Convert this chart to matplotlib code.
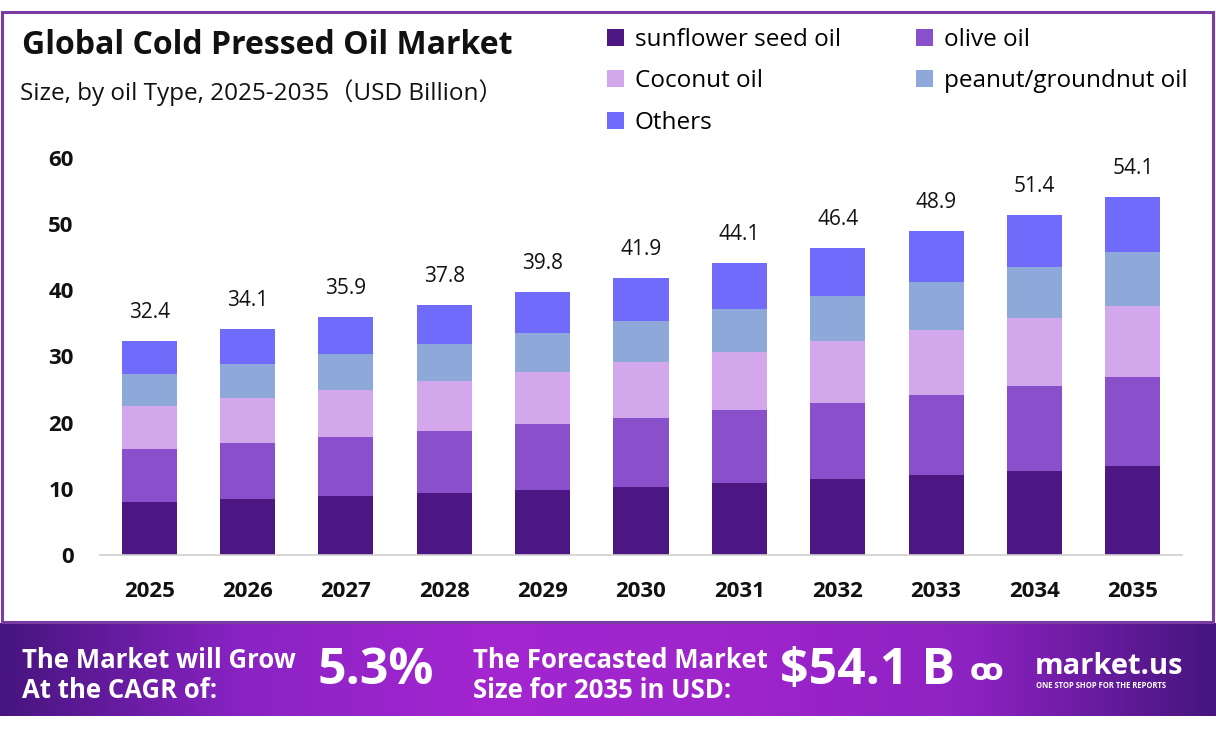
import numpy as np
import matplotlib.pyplot as plt
from matplotlib.colors import LinearSegmentedColormap
from matplotlib.patches import Rectangle

plt.rcParams['font.family'] = ['Open Sans', 'Noto Sans CJK SC', 'DejaVu Sans']

years = ['2025', '2026', '2027', '2028', '2029', '2030', '2031', '2032', '2033', '2034', '2035']
totals = [32.4, 34.1, 35.9, 37.8, 39.8, 41.9, 44.1, 46.4, 48.9, 51.4, 54.1]

sunflower = [8.0, 8.5, 8.9, 9.4, 9.8, 10.3, 10.9, 11.5, 12.1, 12.7, 13.5]
olive = [8.0, 8.5, 8.9, 9.3, 10.0, 10.4, 11.0, 11.5, 12.1, 12.8, 13.4]
coconut = [6.5, 6.8, 7.2, 7.6, 7.8, 8.5, 8.8, 9.3, 9.8, 10.3, 10.7]
peanut = [4.8, 5.1, 5.4, 5.6, 5.9, 6.1, 6.5, 6.8, 7.2, 7.7, 8.2]
others = [5.1, 5.2, 5.5, 5.9, 6.3, 6.6, 6.9, 7.3, 7.7, 7.9, 8.3]

series = [
    ('sunflower seed oil', sunflower, '#4c1782'),
    ('olive oil', olive, '#8a4fcb'),
    ('Coconut oil', coconut, '#d3a7ec'),
    ('peanut/groundnut oil', peanut, '#8fa8da'),
    ('Others', others, '#716bfb'),
]

W, H = 1216, 735
fig = plt.figure(figsize=(W / 100, H / 100), dpi=100)
fig.patch.set_facecolor('white')

# purple frame round the chart area
frame = Rectangle((2 / W, 1 - 622 / H), 1211 / W, (622 - 12) / H, transform=fig.transFigure,
                  fill=False, edgecolor='#7a3ba3', linewidth=2.2, zorder=0)
fig.patches.append(frame)

# main chart
ax = fig.add_axes([100 / W, 1 - 555 / H, (1182 - 100) / W, (555 - 158) / H])
x = np.arange(len(years))
bottom = np.zeros(len(years))
handles = {}
for name, vals, col in series:
    b = ax.bar(x, vals, width=0.56, bottom=bottom, color=col, label=name, zorder=2)
    handles[name] = b
    bottom += np.array(vals)

for i, t in enumerate(totals):
    ax.annotate(f'{t}', (x[i], t), xytext=(0, 13), textcoords='offset points',
                ha='center', va='bottom', fontsize=15, color='#111111', annotation_clip=False)

ax.set_xlim(-0.5, len(years) - 0.5)
ax.set_ylim(0, 60)
ax.set_yticks([0, 10, 20, 30, 40, 50, 60])
ax.set_xticks(x)
ax.set_xticklabels(years)
for lab in ax.get_xticklabels():
    lab.set_fontweight('bold')
    lab.set_fontsize(16)
for lab in ax.get_yticklabels():
    lab.set_fontweight('bold')
    lab.set_fontsize(16)
ax.tick_params(axis='both', length=0, colors='#111111')
ax.tick_params(axis='x', pad=19)
ax.tick_params(axis='y', pad=19)
for s in ['top', 'right', 'left']:
    ax.spines[s].set_visible(False)
ax.spines['bottom'].set_color('#d0d0d0')
ax.spines['bottom'].set_linewidth(1.2)

# titles
fig.text(22 / W, 1 - 45 / H, 'Global Cold Pressed Oil Market', fontsize=23, fontweight='bold',
         va='center', ha='left', color='#111111')
fig.text(20 / W, 1 - 93 / H, 'Size, by oil Type, 2025-2035（USD Billion）', fontsize=17.5,
         va='center', ha='left', color='#111111')

# legend, filled row by row as in the reference
order = ['sunflower seed oil', 'Coconut oil', 'Others', 'olive oil', 'peanut/groundnut oil']
fig.legend(handles=[handles[n] for n in order], labels=order, ncol=2, loc='upper left',
           bbox_to_anchor=(597 / W, 1 - 18 / H), frameon=False, fontsize=17.5,
           handlelength=0.7, handleheight=0.7, handletextpad=0.45, columnspacing=3.1,
           labelspacing=0.72, borderaxespad=0)

# bottom banner with gradient
bax = fig.add_axes([0, 1 - 716 / H, 1, (716 - 623) / H])
cmap = LinearSegmentedColormap.from_list('banner', ['#46157e', '#8a23c4', '#a326d0', '#9e25cc',
                                                    '#8d22c2', '#46157e'])
grad = np.linspace(0, 1, 512).reshape(1, -1)
bax.imshow(grad, aspect='auto', cmap=cmap, extent=[0, 1, 0, 1])
bax.set_xlim(0, 1)
bax.set_ylim(0, 1)
bax.axis('off')

def btext(px, py, s, size, **kw):
    bax.text(px / W, (716 - py) / (716 - 623), s, color='white', fontsize=size,
             fontweight='bold', transform=bax.transAxes, **kw)

btext(22, 661, 'The Market will Grow', 18.5, va='center', ha='left')
btext(22, 691, 'At the CAGR of:', 18.5, va='center', ha='left')
btext(318, 671, '5.3%', 36, va='center', ha='left')
btext(473, 661, 'The Forecasted Market', 18.5, va='center', ha='left')
btext(473, 691, 'Size for 2035 in USD:', 18.5, va='center', ha='left')
btext(780, 671, '$54.1 B', 36, va='center', ha='left')
btext(970, 672, 'ꝏ', 22, va='center', ha='left')
btext(1035, 667, 'market.us', 21, va='center', ha='left')
btext(1036, 686, 'ONE STOP SHOP FOR THE REPORTS', 5.5, va='center', ha='left')

fig.savefig('out.png', dpi=100, facecolor='white')
